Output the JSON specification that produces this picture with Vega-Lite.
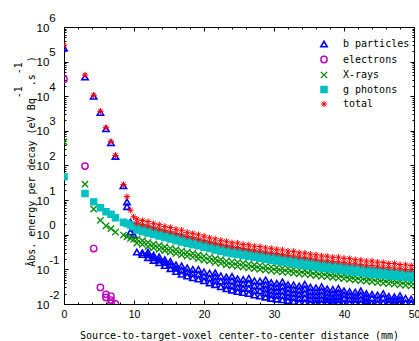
{
  "$schema": "https://vega.github.io/schema/vega-lite/v6.json",
  "width": 350,
  "height": 277,
  "autosize": "none",
  "padding": {"left": 64, "top": 27, "right": 5, "bottom": 37},
  "background": "white",
  "config": {
    "view": {"stroke": "black", "strokeWidth": 1},
    "axis": {"domain": false, "grid": false, "tickColor": "black", "tickWidth": 1, "labelColor": "black", "titleColor": "black"}
  },
  "datasets": {
    "frame": [{"x": 0, "y": 1}],
    "pts": [
      {"s":"b particles","x":0,"y":250000},{"s":"b particles","x":3,"y":36000},{"s":"b particles","x":4.24,"y":10000},{"s":"b particles","x":5.2,"y":3400},{"s":"b particles","x":6,"y":1150},{"s":"b particles","x":6.71,"y":455},{"s":"b particles","x":7.35,"y":183},{"s":"b particles","x":8.49,"y":26},{"s":"b particles","x":9,"y":8.9},{"s":"b particles","x":9,"y":6.5},{"s":"b particles","x":9.49,"y":2.3},{"s":"b particles","x":9.49,"y":1.2},{"s":"b particles","x":9.95,"y":1.55},{"s":"b particles","x":9.95,"y":1.0},
      {"s":"b particles","x":10.4,"y":0.316},
      {"s":"b particles","x":11.2,"y":0.302},{"s":"b particles","x":11.2,"y":0.269},
      {"s":"b particles","x":12.0,"y":0.316},{"s":"b particles","x":12.0,"y":0.263},{"s":"b particles","x":12.0,"y":0.219},
      {"s":"b particles","x":12.8,"y":0.257},{"s":"b particles","x":12.8,"y":0.216},{"s":"b particles","x":12.8,"y":0.182},
      {"s":"b particles","x":13.6,"y":0.229},{"s":"b particles","x":13.6,"y":0.186},{"s":"b particles","x":13.6,"y":0.155},
      {"s":"b particles","x":14.4,"y":0.191},{"s":"b particles","x":14.4,"y":0.158},{"s":"b particles","x":14.4,"y":0.129},
      {"s":"b particles","x":15.2,"y":0.170},{"s":"b particles","x":15.2,"y":0.135},{"s":"b particles","x":15.2,"y":0.105},
      {"s":"b particles","x":16.0,"y":0.135},{"s":"b particles","x":16.0,"y":0.108},{"s":"b particles","x":16.0,"y":0.0871},
      {"s":"b particles","x":16.8,"y":0.126},{"s":"b particles","x":16.8,"y":0.0955},{"s":"b particles","x":16.8,"y":0.0724},
      {"s":"b particles","x":17.6,"y":0.110},{"s":"b particles","x":17.6,"y":0.0841},{"s":"b particles","x":17.6,"y":0.0646},
      {"s":"b particles","x":18.4,"y":0.100},{"s":"b particles","x":18.4,"y":0.0759},{"s":"b particles","x":18.4,"y":0.0575},
      {"s":"b particles","x":19.2,"y":0.100},{"s":"b particles","x":19.2,"y":0.0724},{"s":"b particles","x":19.2,"y":0.0525},
      {"s":"b particles","x":20.0,"y":0.0851},{"s":"b particles","x":20.0,"y":0.0631},{"s":"b particles","x":20.0,"y":0.0468},
      {"s":"b particles","x":20.8,"y":0.0776},{"s":"b particles","x":20.8,"y":0.0562},{"s":"b particles","x":20.8,"y":0.0407},
      {"s":"b particles","x":21.6,"y":0.0794},{"s":"b particles","x":21.6,"y":0.0617},{"s":"b particles","x":21.6,"y":0.0468},{"s":"b particles","x":21.6,"y":0.0363},
      {"s":"b particles","x":22.4,"y":0.0646},{"s":"b particles","x":22.4,"y":0.0457},{"s":"b particles","x":22.4,"y":0.0316},
      {"s":"b particles","x":23.2,"y":0.0603},{"s":"b particles","x":23.2,"y":0.0468},{"s":"b particles","x":23.2,"y":0.0355},{"s":"b particles","x":23.2,"y":0.0275},
      {"s":"b particles","x":24.0,"y":0.0631},{"s":"b particles","x":24.0,"y":0.0468},{"s":"b particles","x":24.0,"y":0.0339},{"s":"b particles","x":24.0,"y":0.0251},
      {"s":"b particles","x":24.8,"y":0.0537},{"s":"b particles","x":24.8,"y":0.0407},{"s":"b particles","x":24.8,"y":0.0302},{"s":"b particles","x":24.8,"y":0.0229},
      {"s":"b particles","x":25.6,"y":0.0513},{"s":"b particles","x":25.6,"y":0.0380},{"s":"b particles","x":25.6,"y":0.0282},{"s":"b particles","x":25.6,"y":0.0214},
      {"s":"b particles","x":26.4,"y":0.0550},{"s":"b particles","x":26.4,"y":0.0398},{"s":"b particles","x":26.4,"y":0.0282},{"s":"b particles","x":26.4,"y":0.0200},
      {"s":"b particles","x":27.2,"y":0.0468},{"s":"b particles","x":27.2,"y":0.0339},{"s":"b particles","x":27.2,"y":0.0245},{"s":"b particles","x":27.2,"y":0.0182},
      {"s":"b particles","x":28.0,"y":0.0457},{"s":"b particles","x":28.0,"y":0.0331},{"s":"b particles","x":28.0,"y":0.0240},{"s":"b particles","x":28.0,"y":0.0170},
      {"s":"b particles","x":28.8,"y":0.0501},{"s":"b particles","x":28.8,"y":0.0363},{"s":"b particles","x":28.8,"y":0.0275},{"s":"b particles","x":28.8,"y":0.0209},{"s":"b particles","x":28.8,"y":0.0158},
      {"s":"b particles","x":29.6,"y":0.0417},{"s":"b particles","x":29.6,"y":0.0316},{"s":"b particles","x":29.6,"y":0.0245},{"s":"b particles","x":29.6,"y":0.0186},{"s":"b particles","x":29.6,"y":0.0145},
      {"s":"b particles","x":30.4,"y":0.0398},{"s":"b particles","x":30.4,"y":0.0302},{"s":"b particles","x":30.4,"y":0.0234},{"s":"b particles","x":30.4,"y":0.0178},{"s":"b particles","x":30.4,"y":0.0138},
      {"s":"b particles","x":31.2,"y":0.0437},{"s":"b particles","x":31.2,"y":0.0324},{"s":"b particles","x":31.2,"y":0.0240},{"s":"b particles","x":31.2,"y":0.0178},{"s":"b particles","x":31.2,"y":0.0132},
      {"s":"b particles","x":32.0,"y":0.0363},{"s":"b particles","x":32.0,"y":0.0282},{"s":"b particles","x":32.0,"y":0.0214},{"s":"b particles","x":32.0,"y":0.0162},{"s":"b particles","x":32.0,"y":0.0126},
      {"s":"b particles","x":32.8,"y":0.0355},{"s":"b particles","x":32.8,"y":0.0269},{"s":"b particles","x":32.8,"y":0.0204},{"s":"b particles","x":32.8,"y":0.0155},{"s":"b particles","x":32.8,"y":0.0117},
      {"s":"b particles","x":33.6,"y":0.0331},{"s":"b particles","x":33.6,"y":0.0251},{"s":"b particles","x":33.6,"y":0.0191},{"s":"b particles","x":33.6,"y":0.0145},{"s":"b particles","x":33.6,"y":0.0110},
      {"s":"b particles","x":34.4,"y":0.0372},{"s":"b particles","x":34.4,"y":0.0275},{"s":"b particles","x":34.4,"y":0.0204},{"s":"b particles","x":34.4,"y":0.0151},{"s":"b particles","x":34.4,"y":0.0110},
      {"s":"b particles","x":35.2,"y":0.0309},{"s":"b particles","x":35.2,"y":0.0234},{"s":"b particles","x":35.2,"y":0.0178},{"s":"b particles","x":35.2,"y":0.0138},{"s":"b particles","x":35.2,"y":0.0107},
      {"s":"b particles","x":36.0,"y":0.0295},{"s":"b particles","x":36.0,"y":0.0224},{"s":"b particles","x":36.0,"y":0.0174},{"s":"b particles","x":36.0,"y":0.0135},{"s":"b particles","x":36.0,"y":0.0107},
      {"s":"b particles","x":36.8,"y":0.0316},{"s":"b particles","x":36.8,"y":0.0240},{"s":"b particles","x":36.8,"y":0.0182},{"s":"b particles","x":36.8,"y":0.0138},{"s":"b particles","x":36.8,"y":0.0107},
      {"s":"b particles","x":37.6,"y":0.0275},{"s":"b particles","x":37.6,"y":0.0214},{"s":"b particles","x":37.6,"y":0.0166},{"s":"b particles","x":37.6,"y":0.0132},{"s":"b particles","x":37.6,"y":0.0107},
      {"s":"b particles","x":38.4,"y":0.0263},{"s":"b particles","x":38.4,"y":0.0204},{"s":"b particles","x":38.4,"y":0.0158},{"s":"b particles","x":38.4,"y":0.0129},{"s":"b particles","x":38.4,"y":0.0107},
      {"s":"b particles","x":39.2,"y":0.0282},{"s":"b particles","x":39.2,"y":0.0214},{"s":"b particles","x":39.2,"y":0.0166},{"s":"b particles","x":39.2,"y":0.0132},{"s":"b particles","x":39.2,"y":0.0107},
      {"s":"b particles","x":40.0,"y":0.0240},{"s":"b particles","x":40.0,"y":0.0186},{"s":"b particles","x":40.0,"y":0.0145},{"s":"b particles","x":40.0,"y":0.0107},
      {"s":"b particles","x":40.8,"y":0.0229},{"s":"b particles","x":40.8,"y":0.0178},{"s":"b particles","x":40.8,"y":0.0138},{"s":"b particles","x":40.8,"y":0.0107},
      {"s":"b particles","x":41.6,"y":0.0219},{"s":"b particles","x":41.6,"y":0.0170},{"s":"b particles","x":41.6,"y":0.0135},{"s":"b particles","x":41.6,"y":0.0107},
      {"s":"b particles","x":42.4,"y":0.0240},{"s":"b particles","x":42.4,"y":0.0182},{"s":"b particles","x":42.4,"y":0.0138},{"s":"b particles","x":42.4,"y":0.0107},
      {"s":"b particles","x":43.2,"y":0.0200},{"s":"b particles","x":43.2,"y":0.0158},{"s":"b particles","x":43.2,"y":0.0126},{"s":"b particles","x":43.2,"y":0.0107},
      {"s":"b particles","x":44.0,"y":0.0191},{"s":"b particles","x":44.0,"y":0.0148},{"s":"b particles","x":44.0,"y":0.0107},
      {"s":"b particles","x":44.8,"y":0.0182},{"s":"b particles","x":44.8,"y":0.0138},{"s":"b particles","x":44.8,"y":0.0107},
      {"s":"b particles","x":45.6,"y":0.0200},{"s":"b particles","x":45.6,"y":0.0151},{"s":"b particles","x":45.6,"y":0.0107},
      {"s":"b particles","x":46.4,"y":0.0166},{"s":"b particles","x":46.4,"y":0.0132},{"s":"b particles","x":46.4,"y":0.0107},
      {"s":"b particles","x":47.2,"y":0.0162},{"s":"b particles","x":47.2,"y":0.0129},{"s":"b particles","x":47.2,"y":0.0107},
      {"s":"b particles","x":48.0,"y":0.0174},{"s":"b particles","x":48.0,"y":0.0135},{"s":"b particles","x":48.0,"y":0.0107},
      {"s":"b particles","x":48.8,"y":0.0145},{"s":"b particles","x":48.8,"y":0.0107},
      {"s":"b particles","x":49.6,"y":0.0138},{"s":"b particles","x":49.6,"y":0.0107},

      {"s":"electrons","x":0,"y":31000},{"s":"electrons","x":3,"y":96},{"s":"electrons","x":4.24,"y":0.40},{"s":"electrons","x":5.2,"y":0.030},{"s":"electrons","x":6,"y":0.019},{"s":"electrons","x":6,"y":0.0155},{"s":"electrons","x":6.71,"y":0.017},{"s":"electrons","x":6.71,"y":0.013},{"s":"electrons","x":6.71,"y":0.0105},{"s":"electrons","x":7.35,"y":0.0101},

      {"s":"X-rays","x":0,"y":480},{"s":"X-rays","x":3,"y":29},{"s":"X-rays","x":4.24,"y":5.5},{"s":"X-rays","x":5.2,"y":2.6},{"s":"X-rays","x":6,"y":1.8},{"s":"X-rays","x":6.71,"y":1.5},{"s":"X-rays","x":7.35,"y":1.2},{"s":"X-rays","x":8.49,"y":0.98},{"s":"X-rays","x":9,"y":0.87},{"s":"X-rays","x":9.49,"y":0.78},{"s":"X-rays","x":9.95,"y":0.74},
      {"s":"X-rays","x":10.4,"y":0.741},{"s":"X-rays","x":10.4,"y":0.575},
      {"s":"X-rays","x":11.2,"y":0.676},{"s":"X-rays","x":11.2,"y":0.525},
      {"s":"X-rays","x":12.0,"y":0.603},{"s":"X-rays","x":12.0,"y":0.457},
      {"s":"X-rays","x":12.8,"y":0.537},{"s":"X-rays","x":12.8,"y":0.417},
      {"s":"X-rays","x":13.6,"y":0.490},{"s":"X-rays","x":13.6,"y":0.380},
      {"s":"X-rays","x":14.4,"y":0.447},{"s":"X-rays","x":14.4,"y":0.347},
      {"s":"X-rays","x":15.2,"y":0.407},{"s":"X-rays","x":15.2,"y":0.316},
      {"s":"X-rays","x":16.0,"y":0.372},{"s":"X-rays","x":16.0,"y":0.288},
      {"s":"X-rays","x":16.8,"y":0.339},{"s":"X-rays","x":16.8,"y":0.263},
      {"s":"X-rays","x":17.6,"y":0.309},{"s":"X-rays","x":17.6,"y":0.240},
      {"s":"X-rays","x":18.4,"y":0.288},{"s":"X-rays","x":18.4,"y":0.224},
      {"s":"X-rays","x":19.2,"y":0.263},{"s":"X-rays","x":19.2,"y":0.204},
      {"s":"X-rays","x":20.0,"y":0.240},{"s":"X-rays","x":20.0,"y":0.186},
      {"s":"X-rays","x":20.8,"y":0.224},{"s":"X-rays","x":20.8,"y":0.174},
      {"s":"X-rays","x":21.6,"y":0.204},{"s":"X-rays","x":21.6,"y":0.158},
      {"s":"X-rays","x":22.4,"y":0.191},{"s":"X-rays","x":22.4,"y":0.148},
      {"s":"X-rays","x":23.2,"y":0.174},{"s":"X-rays","x":23.2,"y":0.135},
      {"s":"X-rays","x":24.0,"y":0.166},{"s":"X-rays","x":24.0,"y":0.129},
      {"s":"X-rays","x":24.8,"y":0.158},{"s":"X-rays","x":24.8,"y":0.123},
      {"s":"X-rays","x":25.6,"y":0.151},{"s":"X-rays","x":25.6,"y":0.117},
      {"s":"X-rays","x":26.4,"y":0.141},{"s":"X-rays","x":26.4,"y":0.110},
      {"s":"X-rays","x":27.2,"y":0.135},{"s":"X-rays","x":27.2,"y":0.105},
      {"s":"X-rays","x":28.0,"y":0.129},{"s":"X-rays","x":28.0,"y":0.100},
      {"s":"X-rays","x":28.8,"y":0.123},{"s":"X-rays","x":28.8,"y":0.0955},
      {"s":"X-rays","x":29.6,"y":0.117},{"s":"X-rays","x":29.6,"y":0.0912},
      {"s":"X-rays","x":30.4,"y":0.112},{"s":"X-rays","x":30.4,"y":0.0871},
      {"s":"X-rays","x":31.2,"y":0.107},{"s":"X-rays","x":31.2,"y":0.0832},
      {"s":"X-rays","x":32.0,"y":0.105},{"s":"X-rays","x":32.0,"y":0.0813},
      {"s":"X-rays","x":32.8,"y":0.100},{"s":"X-rays","x":32.8,"y":0.0776},
      {"s":"X-rays","x":33.6,"y":0.0955},{"s":"X-rays","x":33.6,"y":0.0741},
      {"s":"X-rays","x":34.4,"y":0.0933},{"s":"X-rays","x":34.4,"y":0.0724},
      {"s":"X-rays","x":35.2,"y":0.0891},{"s":"X-rays","x":35.2,"y":0.0692},
      {"s":"X-rays","x":36.0,"y":0.0851},{"s":"X-rays","x":36.0,"y":0.0661},
      {"s":"X-rays","x":36.8,"y":0.0813},{"s":"X-rays","x":36.8,"y":0.0631},
      {"s":"X-rays","x":37.6,"y":0.0794},{"s":"X-rays","x":37.6,"y":0.0617},
      {"s":"X-rays","x":38.4,"y":0.0759},{"s":"X-rays","x":38.4,"y":0.0589},
      {"s":"X-rays","x":39.2,"y":0.0724},{"s":"X-rays","x":39.2,"y":0.0562},
      {"s":"X-rays","x":40.0,"y":0.0692},{"s":"X-rays","x":40.0,"y":0.0537},
      {"s":"X-rays","x":40.8,"y":0.0661},{"s":"X-rays","x":40.8,"y":0.0513},
      {"s":"X-rays","x":41.6,"y":0.0631},{"s":"X-rays","x":41.6,"y":0.0490},
      {"s":"X-rays","x":42.4,"y":0.0603},{"s":"X-rays","x":42.4,"y":0.0468},
      {"s":"X-rays","x":43.2,"y":0.0589},{"s":"X-rays","x":43.2,"y":0.0457},
      {"s":"X-rays","x":44.0,"y":0.0562},{"s":"X-rays","x":44.0,"y":0.0437},
      {"s":"X-rays","x":44.8,"y":0.0537},{"s":"X-rays","x":44.8,"y":0.0417},
      {"s":"X-rays","x":45.6,"y":0.0513},{"s":"X-rays","x":45.6,"y":0.0398},
      {"s":"X-rays","x":46.4,"y":0.0501},{"s":"X-rays","x":46.4,"y":0.0389},
      {"s":"X-rays","x":47.2,"y":0.0479},{"s":"X-rays","x":47.2,"y":0.0372},
      {"s":"X-rays","x":48.0,"y":0.0457},{"s":"X-rays","x":48.0,"y":0.0355},
      {"s":"X-rays","x":48.8,"y":0.0447},{"s":"X-rays","x":48.8,"y":0.0347},
      {"s":"X-rays","x":49.6,"y":0.0427},{"s":"X-rays","x":49.6,"y":0.0331},

      {"s":"g photons","x":0,"y":47},{"s":"g photons","x":3,"y":15.5},{"s":"g photons","x":4.24,"y":8.9},{"s":"g photons","x":5.2,"y":6.0},{"s":"g photons","x":6,"y":4.6},{"s":"g photons","x":6.71,"y":3.9},{"s":"g photons","x":7.35,"y":3.1},{"s":"g photons","x":8.49,"y":2.3},{"s":"g photons","x":9,"y":2.1},{"s":"g photons","x":9.49,"y":1.9},{"s":"g photons","x":9.95,"y":1.7},
      {"s":"g photons","x":10.4,"y":1.778},{"s":"g photons","x":10.4,"y":1.380},
      {"s":"g photons","x":11.2,"y":1.585},{"s":"g photons","x":11.2,"y":1.230},
      {"s":"g photons","x":12.0,"y":1.445},{"s":"g photons","x":12.0,"y":1.122},
      {"s":"g photons","x":12.8,"y":1.318},{"s":"g photons","x":12.8,"y":1.023},
      {"s":"g photons","x":13.6,"y":1.175},{"s":"g photons","x":13.6,"y":0.912},
      {"s":"g photons","x":14.4,"y":1.072},{"s":"g photons","x":14.4,"y":0.832},
      {"s":"g photons","x":15.2,"y":0.977},{"s":"g photons","x":15.2,"y":0.759},
      {"s":"g photons","x":16.0,"y":0.871},{"s":"g photons","x":16.0,"y":0.676},
      {"s":"g photons","x":16.8,"y":0.794},{"s":"g photons","x":16.8,"y":0.617},
      {"s":"g photons","x":17.6,"y":0.724},{"s":"g photons","x":17.6,"y":0.562},
      {"s":"g photons","x":18.4,"y":0.661},{"s":"g photons","x":18.4,"y":0.513},
      {"s":"g photons","x":19.2,"y":0.617},{"s":"g photons","x":19.2,"y":0.479},
      {"s":"g photons","x":20.0,"y":0.562},{"s":"g photons","x":20.0,"y":0.437},
      {"s":"g photons","x":20.8,"y":0.513},{"s":"g photons","x":20.8,"y":0.398},
      {"s":"g photons","x":21.6,"y":0.468},{"s":"g photons","x":21.6,"y":0.363},
      {"s":"g photons","x":22.4,"y":0.427},{"s":"g photons","x":22.4,"y":0.331},
      {"s":"g photons","x":23.2,"y":0.389},{"s":"g photons","x":23.2,"y":0.302},
      {"s":"g photons","x":24.0,"y":0.363},{"s":"g photons","x":24.0,"y":0.282},
      {"s":"g photons","x":24.8,"y":0.347},{"s":"g photons","x":24.8,"y":0.269},
      {"s":"g photons","x":25.6,"y":0.324},{"s":"g photons","x":25.6,"y":0.251},
      {"s":"g photons","x":26.4,"y":0.302},{"s":"g photons","x":26.4,"y":0.234},
      {"s":"g photons","x":27.2,"y":0.288},{"s":"g photons","x":27.2,"y":0.224},
      {"s":"g photons","x":28.0,"y":0.269},{"s":"g photons","x":28.0,"y":0.209},
      {"s":"g photons","x":28.8,"y":0.251},{"s":"g photons","x":28.8,"y":0.195},
      {"s":"g photons","x":29.6,"y":0.234},{"s":"g photons","x":29.6,"y":0.182},
      {"s":"g photons","x":30.4,"y":0.224},{"s":"g photons","x":30.4,"y":0.174},
      {"s":"g photons","x":31.2,"y":0.209},{"s":"g photons","x":31.2,"y":0.162},
      {"s":"g photons","x":32.0,"y":0.200},{"s":"g photons","x":32.0,"y":0.155},
      {"s":"g photons","x":32.8,"y":0.186},{"s":"g photons","x":32.8,"y":0.145},
      {"s":"g photons","x":33.6,"y":0.178},{"s":"g photons","x":33.6,"y":0.138},
      {"s":"g photons","x":34.4,"y":0.166},{"s":"g photons","x":34.4,"y":0.129},
      {"s":"g photons","x":35.2,"y":0.158},{"s":"g photons","x":35.2,"y":0.123},
      {"s":"g photons","x":36.0,"y":0.151},{"s":"g photons","x":36.0,"y":0.117},
      {"s":"g photons","x":36.8,"y":0.141},{"s":"g photons","x":36.8,"y":0.110},
      {"s":"g photons","x":37.6,"y":0.135},{"s":"g photons","x":37.6,"y":0.105},
      {"s":"g photons","x":38.4,"y":0.129},{"s":"g photons","x":38.4,"y":0.100},
      {"s":"g photons","x":39.2,"y":0.123},{"s":"g photons","x":39.2,"y":0.0955},
      {"s":"g photons","x":40.0,"y":0.117},{"s":"g photons","x":40.0,"y":0.0912},
      {"s":"g photons","x":40.8,"y":0.112},{"s":"g photons","x":40.8,"y":0.0871},
      {"s":"g photons","x":41.6,"y":0.107},{"s":"g photons","x":41.6,"y":0.0832},
      {"s":"g photons","x":42.4,"y":0.102},{"s":"g photons","x":42.4,"y":0.0794},
      {"s":"g photons","x":43.2,"y":0.0977},{"s":"g photons","x":43.2,"y":0.0759},
      {"s":"g photons","x":44.0,"y":0.0933},{"s":"g photons","x":44.0,"y":0.0724},
      {"s":"g photons","x":44.8,"y":0.0912},{"s":"g photons","x":44.8,"y":0.0708},
      {"s":"g photons","x":45.6,"y":0.0871},{"s":"g photons","x":45.6,"y":0.0676},
      {"s":"g photons","x":46.4,"y":0.0832},{"s":"g photons","x":46.4,"y":0.0646},
      {"s":"g photons","x":47.2,"y":0.0813},{"s":"g photons","x":47.2,"y":0.0631},
      {"s":"g photons","x":48.0,"y":0.0776},{"s":"g photons","x":48.0,"y":0.0603},
      {"s":"g photons","x":48.8,"y":0.0759},{"s":"g photons","x":48.8,"y":0.0589},
      {"s":"g photons","x":49.6,"y":0.0724},{"s":"g photons","x":49.6,"y":0.0562},

      {"s":"total","x":0,"y":300000},{"s":"total","x":3,"y":41000},{"s":"total","x":4.24,"y":10700},{"s":"total","x":5.2,"y":3700},{"s":"total","x":6,"y":1240},{"s":"total","x":6.71,"y":490},{"s":"total","x":7.35,"y":196},{"s":"total","x":8.49,"y":28},{"s":"total","x":9,"y":12.6},{"s":"total","x":9.49,"y":5.1},{"s":"total","x":9.95,"y":3.3},
      {"s":"total","x":10.4,"y":2.818},{"s":"total","x":10.4,"y":2.138},
      {"s":"total","x":11.2,"y":2.570},{"s":"total","x":11.2,"y":1.950},
      {"s":"total","x":12.0,"y":2.399},{"s":"total","x":12.0,"y":1.778},
      {"s":"total","x":12.8,"y":2.089},{"s":"total","x":12.8,"y":1.585},
      {"s":"total","x":13.6,"y":1.950},{"s":"total","x":13.6,"y":1.445},
      {"s":"total","x":14.4,"y":1.738},{"s":"total","x":14.4,"y":1.318},
      {"s":"total","x":15.2,"y":1.622},{"s":"total","x":15.2,"y":1.202},
      {"s":"total","x":16.0,"y":1.445},{"s":"total","x":16.0,"y":1.096},
      {"s":"total","x":16.8,"y":1.349},{"s":"total","x":16.8,"y":1.000},
      {"s":"total","x":17.6,"y":1.175},{"s":"total","x":17.6,"y":0.891},
      {"s":"total","x":18.4,"y":1.096},{"s":"total","x":18.4,"y":0.813},
      {"s":"total","x":19.2,"y":1.000},{"s":"total","x":19.2,"y":0.741},
      {"s":"total","x":20.0,"y":0.912},{"s":"total","x":20.0,"y":0.676},
      {"s":"total","x":20.8,"y":0.813},{"s":"total","x":20.8,"y":0.617},
      {"s":"total","x":21.6,"y":0.759},{"s":"total","x":21.6,"y":0.562},
      {"s":"total","x":22.4,"y":0.692},{"s":"total","x":22.4,"y":0.525},
      {"s":"total","x":23.2,"y":0.646},{"s":"total","x":23.2,"y":0.479},
      {"s":"total","x":24.0,"y":0.589},{"s":"total","x":24.0,"y":0.447},
      {"s":"total","x":24.8,"y":0.575},{"s":"total","x":24.8,"y":0.427},
      {"s":"total","x":25.6,"y":0.525},{"s":"total","x":25.6,"y":0.398},
      {"s":"total","x":26.4,"y":0.513},{"s":"total","x":26.4,"y":0.380},
      {"s":"total","x":27.2,"y":0.468},{"s":"total","x":27.2,"y":0.355},
      {"s":"total","x":28.0,"y":0.457},{"s":"total","x":28.0,"y":0.339},
      {"s":"total","x":28.8,"y":0.417},{"s":"total","x":28.8,"y":0.316},
      {"s":"total","x":29.6,"y":0.407},{"s":"total","x":29.6,"y":0.302},
      {"s":"total","x":30.4,"y":0.380},{"s":"total","x":30.4,"y":0.288},
      {"s":"total","x":31.2,"y":0.363},{"s":"total","x":31.2,"y":0.269},
      {"s":"total","x":32.0,"y":0.339},{"s":"total","x":32.0,"y":0.257},
      {"s":"total","x":32.8,"y":0.331},{"s":"total","x":32.8,"y":0.245},
      {"s":"total","x":33.6,"y":0.302},{"s":"total","x":33.6,"y":0.229},
      {"s":"total","x":34.4,"y":0.295},{"s":"total","x":34.4,"y":0.219},
      {"s":"total","x":35.2,"y":0.275},{"s":"total","x":35.2,"y":0.209},
      {"s":"total","x":36.0,"y":0.263},{"s":"total","x":36.0,"y":0.197},
      {"s":"total","x":36.8,"y":0.245},{"s":"total","x":36.8,"y":0.186},
      {"s":"total","x":37.6,"y":0.240},{"s":"total","x":37.6,"y":0.178},
      {"s":"total","x":38.4,"y":0.224},{"s":"total","x":38.4,"y":0.170},
      {"s":"total","x":39.2,"y":0.224},{"s":"total","x":39.2,"y":0.166},
      {"s":"total","x":40.0,"y":0.209},{"s":"total","x":40.0,"y":0.158},
      {"s":"total","x":40.8,"y":0.204},{"s":"total","x":40.8,"y":0.151},
      {"s":"total","x":41.6,"y":0.191},{"s":"total","x":41.6,"y":0.145},
      {"s":"total","x":42.4,"y":0.186},{"s":"total","x":42.4,"y":0.138},
      {"s":"total","x":43.2,"y":0.174},{"s":"total","x":43.2,"y":0.132},
      {"s":"total","x":44.0,"y":0.174},{"s":"total","x":44.0,"y":0.129},
      {"s":"total","x":44.8,"y":0.162},{"s":"total","x":44.8,"y":0.123},
      {"s":"total","x":45.6,"y":0.158},{"s":"total","x":45.6,"y":0.117},
      {"s":"total","x":46.4,"y":0.148},{"s":"total","x":46.4,"y":0.112},
      {"s":"total","x":47.2,"y":0.148},{"s":"total","x":47.2,"y":0.110},
      {"s":"total","x":48.0,"y":0.138},{"s":"total","x":48.0,"y":0.105},
      {"s":"total","x":48.8,"y":0.135},{"s":"total","x":48.8,"y":0.100},
      {"s":"total","x":49.6,"y":0.129},{"s":"total","x":49.6,"y":0.0977}
    ]
  },
  "layer": [
    {
      "data": {"name": "pts"},
      "mark": {"type": "point", "size": 40, "opacity": 1, "clip": true},
      "encoding": {
        "x": {
          "field": "x", "type": "quantitative",
          "scale": {"domain": [0, 50], "nice": false, "zero": false},
          "axis": {
            "orient": "bottom",
            "values": [0,2,4,6,8,10,12,14,16,18,20,22,24,26,28,30,32,34,36,38,40,42,44,46,48,50],
            "labelExpr": "datum.value % 10 === 0 ? datum.label : ''",
            "tickSize": {"condition": {"test": "datum.value % 10 === 0", "value": -4}, "value": -2},
            "labelPadding": 9,
            "labelFlush": false,
            "labelOverlap": false,
            "labelFont": "Liberation Sans",
            "labelFontSize": 10.5,
            "title": "Source-to-target-voxel center-to-center distance (mm)",
            "titleFont": "DejaVu Sans Mono",
            "titleFontSize": 10,
            "titleFontWeight": "normal",
            "titlePadding": 9
          }
        },
        "y": {
          "field": "y", "type": "quantitative",
          "scale": {"type": "log", "domain": [0.01, 1000000], "nice": false},
          "axis": {
            "orient": "left",
            "values": [0.01,0.02,0.03,0.04,0.05,0.06,0.07,0.08,0.09,0.1,0.2,0.3,0.4,0.5,0.6,0.7,0.8,0.9,1,2,3,4,5,6,7,8,9,10,20,30,40,50,60,70,80,90,100,200,300,400,500,600,700,800,900,1000,2000,3000,4000,5000,6000,7000,8000,9000,10000,20000,30000,40000,50000,60000,70000,80000,90000,100000,200000,300000,400000,500000,600000,700000,800000,900000,1000000],
            "labelExpr": "abs(log(datum.value)/LN10 - round(log(datum.value)/LN10)) < 0.001 ? ['\u200b\u00a0\u00a0\u00a0\u00a0' + round(log(datum.value)/LN10), '10'] : ''",
            "tickSize": {"condition": {"test": "abs(log(datum.value)/LN10 - round(log(datum.value)/LN10)) < 0.001", "value": -4}, "value": -2},
            "labelAlign": "left",
            "labelBaseline": "middle",
            "labelLineHeight": 10,
            "labelOffset": -9,
            "labelPadding": 32,
            "labelFlush": false,
            "labelOverlap": false,
            "labelBound": false,
            "labelFont": "Liberation Sans",
            "labelFontSize": 11.5,
            "title": ["\u200b\u00a0\u00a0\u00a0\u00a0\u00a0\u00a0\u00a0\u00a0\u00a0\u00a0\u00a0\u00a0\u00a0\u00a0\u00a0\u00a0\u00a0\u00a0\u00a0\u00a0\u00a0\u00a0\u00a0\u00a0\u00a0\u00a0\u00a0\u00a0-1\u00a0\u00a0-1\u00a0\u200b", "Âbs. energy per decay (eV Bq\u00a0\u00a0.s\u00a0\u00a0)"],
            "titleFont": "DejaVu Sans Mono",
            "titleFontSize": 10,
            "titleFontWeight": "normal",
            "titleLineHeight": 13,
            "titleBaseline": "middle",
            "titleX": -46,
            "titleY": 134
          }
        },
        "shape": {
          "field": "s", "type": "nominal",
          "scale": {"domain": ["b particles", "electrons", "X-rays", "g photons", "total"],
                    "range": ["triangle-up", "circle", "M-1,-1L1,1M-1,1L1,-1", "square", "M-1,0L1,0M0,-1L0,1M-0.7,-0.7L0.7,0.7M-0.7,0.7L0.7,-0.7"]},
          "legend": {
            "orient": "none", "legendX": 255, "legendY": 12, "padding": 0, "title": null,
            "labelFont": "DejaVu Sans Mono", "labelFontSize": 10, "labelColor": "black",
            "symbolSize": 40, "rowPadding": 2.5, "labelOffset": 14
          }
        },
        "stroke": {
          "field": "s", "type": "nominal",
          "scale": {"domain": ["b particles", "electrons", "X-rays", "g photons", "total"],
                    "range": ["#0000ff", "#c000c0", "#008c00", "#00c0c0", "#ff0000"]},
          "legend": {
            "orient": "none", "legendX": 255, "legendY": 12, "padding": 0, "title": null,
            "labelFont": "DejaVu Sans Mono", "labelFontSize": 10, "labelColor": "black",
            "symbolSize": 40, "rowPadding": 2.5, "labelOffset": 14
          }
        },
        "fill": {
          "field": "s", "type": "nominal",
          "scale": {"domain": ["b particles", "electrons", "X-rays", "g photons", "total"],
                    "range": ["transparent", "transparent", "transparent", "#00c0c0", "transparent"]},
          "legend": {
            "orient": "none", "legendX": 255, "legendY": 12, "padding": 0, "title": null,
            "labelFont": "DejaVu Sans Mono", "labelFontSize": 10, "labelColor": "black",
            "symbolSize": 40, "rowPadding": 2.5, "labelOffset": 14
          }
        },
        "strokeWidth": {
          "field": "s", "type": "nominal",
          "scale": {"domain": ["b particles", "electrons", "X-rays", "g photons", "total"],
                    "range": [1.6, 1, 1.4, 1, 1.5]},
          "legend": null
        }
      }
    },
    {
      "data": {"name": "frame"},
      "mark": {"type": "point", "opacity": 0},
      "encoding": {
        "x": {
          "field": "x", "type": "quantitative",
          "scale": {"domain": [0, 50], "nice": false, "zero": false},
          "axis": {
            "orient": "top",
            "values": [0,2,4,6,8,10,12,14,16,18,20,22,24,26,28,30,32,34,36,38,40,42,44,46,48,50],
            "labels": false,
            "tickSize": {"condition": {"test": "datum.value % 10 === 0", "value": -4}, "value": -2},
            "title": null
          }
        },
        "y": {
          "field": "y", "type": "quantitative",
          "scale": {"type": "log", "domain": [0.01, 1000000], "nice": false},
          "axis": {
            "orient": "right",
            "values": [0.01,0.02,0.03,0.04,0.05,0.06,0.07,0.08,0.09,0.1,0.2,0.3,0.4,0.5,0.6,0.7,0.8,0.9,1,2,3,4,5,6,7,8,9,10,20,30,40,50,60,70,80,90,100,200,300,400,500,600,700,800,900,1000,2000,3000,4000,5000,6000,7000,8000,9000,10000,20000,30000,40000,50000,60000,70000,80000,90000,100000,200000,300000,400000,500000,600000,700000,800000,900000,1000000],
            "labels": false,
            "tickSize": {"condition": {"test": "abs(log(datum.value)/LN10 - round(log(datum.value)/LN10)) < 0.001", "value": -4}, "value": -2},
            "title": null
          }
        }
      }
    }
  ],
  "resolve": {"axis": {"x": "independent", "y": "independent"}}
}
